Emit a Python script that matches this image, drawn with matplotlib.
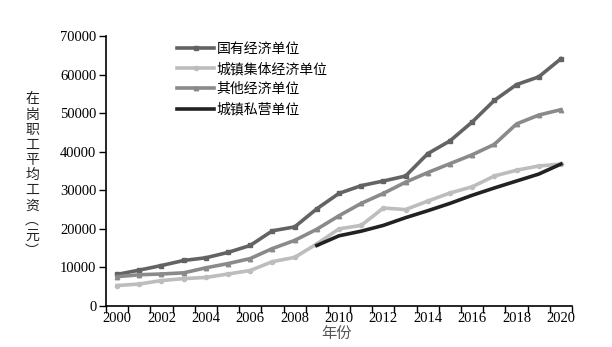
import numpy as np
import matplotlib.pyplot as plt

plt.rcParams['font.family'] = ['Noto Sans CJK SC', 'DejaVu Sans']

# 年份 2000-2020
years = list(range(2000, 2021))
state_owned = [8200, 9300, 10500, 11800, 12500, 13900, 15700, 19500, 20500, 25200,
               29200, 31200, 32400, 33700, 39500, 42800, 47700, 53300, 57400, 59400, 64100]
collective = [5300, 5700, 6600, 7100, 7400, 8300, 9200, 11500, 12600, 16100,
              20000, 20900, 25400, 25000, 27200, 29300, 30900, 33700, 35200, 36300, 36800]
other = [7600, 8100, 8300, 8600, 9900, 11000, 12300, 14900, 17000, 19900,
         23400, 26600, 29200, 32100, 34600, 36900, 39200, 41900, 47200, 49500, 50900]
# 私营单位从2009年开始有数据
private_years = list(range(2009, 2021))
private = [15700, 18200, 19400, 20900, 22900, 24700, 26600, 28700, 30600, 32400, 34200, 36800]

fig = plt.figure(figsize=(6.12, 3.47), dpi=100)
ax = fig.add_axes([106 / 612, 41 / 347, 466 / 612, 270 / 347])

x = np.arange(len(years))
xp = np.array([years.index(y) for y in private_years])

ax.plot(x, state_owned, color='#636363', lw=2.6, marker='s', ms=3.2, label='国有经济单位')
ax.plot(x, collective, color='#bdbdbd', lw=2.6, marker='o', ms=3, label='城镇集体经济单位')
ax.plot(x, other, color='#8a8a8a', lw=2.6, marker='^', ms=3.2, label='其他经济单位')
ax.plot(xp, private, color='#222222', lw=2.6, label='城镇私营单位')

ax.set_xlim(-0.5, len(years) - 0.5)
ax.set_ylim(0, 70000)
ax.set_yticks(np.arange(0, 70001, 10000))

# category axis: ticks between years, labels every two years
ax.set_xticks(np.arange(-0.5, len(years), 1.0))
ax.set_xticklabels([])
ax.set_xticks(x[::2], minor=True)
ax.set_xticklabels([str(y) for y in years[::2]], minor=True)
ax.tick_params(axis='x', which='minor', length=0, pad=4)
ax.tick_params(axis='x', which='major', length=5, direction='out', width=1)
ax.tick_params(axis='y', length=5, direction='out', width=1, pad=2)

for lab in ax.get_xticklabels(minor=True) + ax.get_yticklabels():
    lab.set_family('Liberation Serif')
    lab.set_fontsize(10.5)

for s in ['top', 'right']:
    ax.spines[s].set_visible(False)
for s in ['left', 'bottom']:
    ax.spines[s].set_linewidth(1.2)

ax.legend(loc='upper left', bbox_to_anchor=(0.125, 1.025), frameon=False,
          fontsize=10, handlelength=2.7, handletextpad=0.15, labelspacing=0.45)

ylabel = '在岗职工平均工资︵元︶'
fig.text(32 / 612, 1 - 175 / 347, '\n'.join(ylabel), ha='center', va='center',
         fontsize=10, linespacing=1.1, color='#222222')
fig.text(337 / 612, 1 - 333 / 347, '年份', ha='center', va='center',
         fontsize=11, color='#555555')

fig.savefig('out.png', dpi=100)
